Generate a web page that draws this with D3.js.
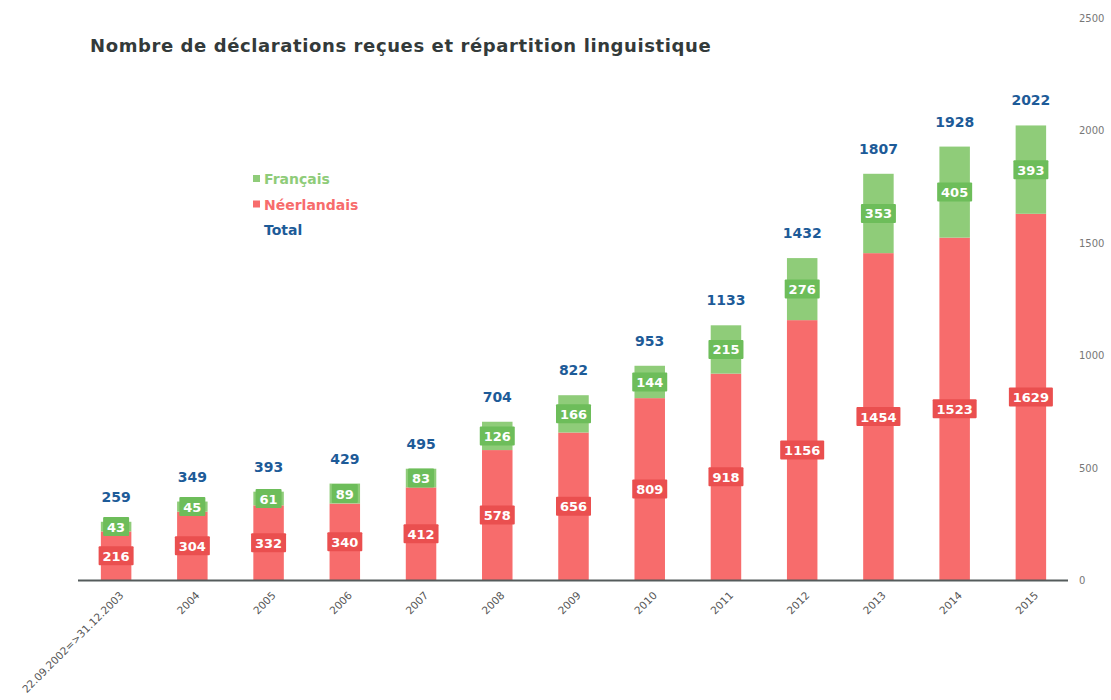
<!DOCTYPE html>
<html>
<head>
<meta charset="utf-8">
<script src="https://cdn.jsdelivr.net/npm/d3@7"></script>
<style>
  body { margin: 0; background: #fff; }
  text { font-family: "DejaVu Sans", Verdana, sans-serif; }
</style>
</head>
<body>
<div id="chart"></div>
<script>
var periodes = ["22.09.2002=>31.12.2003", "2004", "2005", "2006", "2007", "2008", "2009",
    "2010", "2011", "2012", "2013", "2014", "2015"];
var neerlandais = [216, 304, 332, 340, 412, 578, 656, 809, 918, 1156, 1454, 1523, 1629];
var francais = [43, 45, 61, 89, 83, 126, 166, 144, 215, 276, 353, 405, 393];
var totaux = [259, 349, 393, 429, 495, 704, 822, 953, 1133, 1432, 1807, 1928, 2022];
var yTicks = [0, 500, 1000, 1500, 2000, 2500];

var width = 1111, height = 700;
var svg = d3.select('#chart').append('svg')
    .attr('width', width)
    .attr('height', height);

var x = d3.scaleBand()
    .domain(periodes)
    .range([78, 1069])
    .paddingInner(0.6)
    .paddingOuter(0.3);

var y = d3.scaleLinear()
    .domain([0, 2500])
    .range([580, 18]);

var rouge = '#f76c6c', rougeFonce = '#ea4f4f';
var vert = '#8fcc79', vertFonce = '#6dbd5a';
var bleu = '#1d5b98';

// titre
svg.append('text')
    .attr('x', 90)
    .attr('y', 52)
    .style('font-size', '18px')
    .style('font-weight', 'bold')
    .style('letter-spacing', '0.6px')
    .style('fill', '#333a3a')
    .text('Nombre de déclarations reçues et répartition linguistique');

// axe Y à droite (étiquettes seulement)
svg.selectAll('.ytick')
    .data(yTicks)
    .enter()
    .append('text')
    .attr('class', 'ytick')
    .attr('x', 1079)
    .attr('y', function (d) { return y(d) + 4; })
    .style('font-size', '10px')
    .style('fill', '#777')
    .text(function (d) { return d; });

// barres
var g = svg.selectAll('.bar')
    .data(periodes)
    .enter()
    .append('g')
    .attr('class', 'bar');

g.append('rect')
    .attr('x', function (d) { return x(d); })
    .attr('width', x.bandwidth())
    .attr('y', function (d, i) { return y(neerlandais[i]); })
    .attr('height', function (d, i) { return y(0) - y(neerlandais[i]); })
    .attr('fill', rouge);

g.append('rect')
    .attr('x', function (d) { return x(d); })
    .attr('width', x.bandwidth())
    .attr('y', function (d, i) { return y(neerlandais[i] + francais[i]); })
    .attr('height', function (d, i) { return y(neerlandais[i]) - y(neerlandais[i] + francais[i]); })
    .attr('fill', vert);

// étiquettes
function etiquette(valeurs, base, couleur) {
    periodes.forEach(function (d, i) {
        var v = valeurs[i];
        var cy = y(base[i] + v / 2);
        var w = String(v).length * 9 + 8;
        var cx = x(d) + x.bandwidth() / 2;
        svg.append('rect')
            .attr('x', cx - w / 2)
            .attr('y', cy - 9.5)
            .attr('width', w)
            .attr('height', 19)
            .attr('rx', 1)
            .attr('fill', couleur);
        svg.append('text')
            .attr('x', cx)
            .attr('y', cy + 5)
            .attr('text-anchor', 'middle')
            .style('font-size', '13px')
            .style('font-weight', 'bold')
            .style('fill', '#fff')
            .text(v);
    });
}
etiquette(neerlandais, periodes.map(function () { return 0; }), rougeFonce);
etiquette(francais, neerlandais, vertFonce);

// totaux
svg.selectAll('.total')
    .data(periodes)
    .enter()
    .append('text')
    .attr('class', 'total')
    .attr('x', function (d) { return x(d) + x.bandwidth() / 2; })
    .attr('y', function (d, i) { return y(totaux[i]) - 20; })
    .attr('text-anchor', 'middle')
    .style('font-size', '14px')
    .style('font-weight', 'bold')
    .style('fill', bleu)
    .text(function (d, i) { return totaux[i]; });

// axe X
svg.append('line')
    .attr('x1', 78).attr('x2', 1068)
    .attr('y1', 580.5).attr('y2', 580.5)
    .attr('stroke', '#555c5c')
    .attr('stroke-width', 2);

svg.selectAll('.xlabel')
    .data(periodes)
    .enter()
    .append('text')
    .attr('class', 'xlabel')
    .attr('text-anchor', 'end')
    .attr('transform', function (d) {
        return 'translate(' + (x(d) + x.bandwidth() / 2 + 8) + ', 596)rotate(-45)';
    })
    .style('font-size', '10.5px')
    .style('fill', '#555')
    .text(function (d) { return d; });

// légende
var legende = [
    { nom: 'Français', couleur: vert, carre: true },
    { nom: 'Néerlandais', couleur: rouge, carre: true },
    { nom: 'Total', couleur: bleu, carre: false }
];
legende.forEach(function (l, i) {
    var ly = 179 + i * 25.5;
    if (l.carre) {
        svg.append('rect')
            .attr('x', 253).attr('y', ly - 4)
            .attr('width', 7).attr('height', 7)
            .attr('fill', l.couleur);
    }
    svg.append('text')
        .attr('x', 264)
        .attr('y', ly + 5)
        .style('font-size', '14px')
        .style('font-weight', 'bold')
        .style('fill', l.couleur)
        .text(l.nom);
});
</script>
</body>
</html>
